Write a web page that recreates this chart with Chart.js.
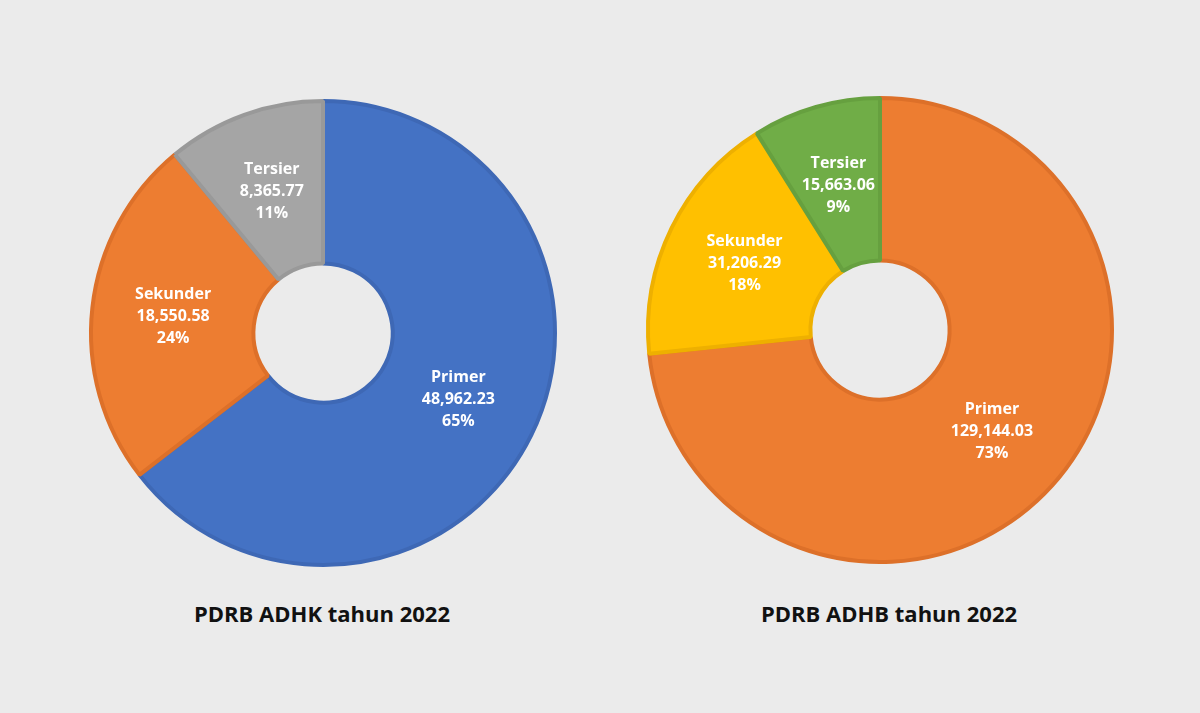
<!DOCTYPE html>
<html><head><meta charset="utf-8">
<script src="https://cdn.jsdelivr.net/npm/chart.js@4"></script>
<style>
body{margin:0;width:1200px;height:713px;background:#ebebeb;position:relative;overflow:hidden;font-family:"Open Sans",sans-serif}
canvas{position:absolute}
.t{position:absolute;top:598px;font-weight:bold;font-size:22px;color:#111;width:500px;text-align:center}
</style></head><body>
<canvas id="c1" width="480" height="480" style="left:83px;top:93px"></canvas>
<canvas id="c2" width="480" height="480" style="left:640px;top:90px"></canvas>
<div class="t" style="left:72px">PDRB ADHK tahun 2022</div>
<div class="t" style="left:639px">PDRB ADHB tahun 2022</div>
<script>
const categories=["Primer","Sekunder","Tersier"];
const adhkValues=[48962.23,18550.58,8365.77];
const adhkPct=["65%","24%","11%"];
const adhbValues=[129144.03,31206.29,15663.06];
const adhbPct=["73%","18%","9%"];
const adhkColors=["#4472c4","#ed7d31","#a5a5a5"];
const adhkBorders=["#3e68b5","#dd7029","#999999"];
const adhbColors=["#ed7d31","#ffc000","#70ad47"];
const adhbBorders=["#dd7029","#eeb000","#66a03f"];
const fmt=v=>v.toLocaleString("en-US",{minimumFractionDigits:2,maximumFractionDigits:2});
const labelPlugin={id:"lbl",afterDatasetsDraw(chart){
  const ctx=chart.ctx,ds=chart.data.datasets[0],meta=chart.getDatasetMeta(0);
  ctx.save();ctx.fillStyle="#fff";ctx.font="bold 16px 'Open Sans'";ctx.textAlign="center";ctx.textBaseline="middle";
  meta.data.forEach((el,i)=>{const p=el.tooltipPosition();
    const lines=[chart.data.labels[i],fmt(ds.data[i]),ds.pct[i]];
    lines.forEach((l,j)=>ctx.fillText(l,p.x,p.y+(j-1)*22));});
  ctx.restore();}};
function make(id,vals,pct,cols,bords){
  new Chart(document.getElementById(id),{type:"doughnut",
    data:{labels:categories,datasets:[{data:vals,pct:pct,backgroundColor:cols,borderColor:bords,borderWidth:4}]},
    options:{responsive:false,animation:false,radius:232,cutout:"30%",layout:{padding:0},
      plugins:{legend:{display:false},tooltip:{enabled:false}}},plugins:[labelPlugin]});
}
make("c1",adhkValues,adhkPct,adhkColors,adhkBorders);
make("c2",adhbValues,adhbPct,adhbColors,adhbBorders);
</script></body></html>
